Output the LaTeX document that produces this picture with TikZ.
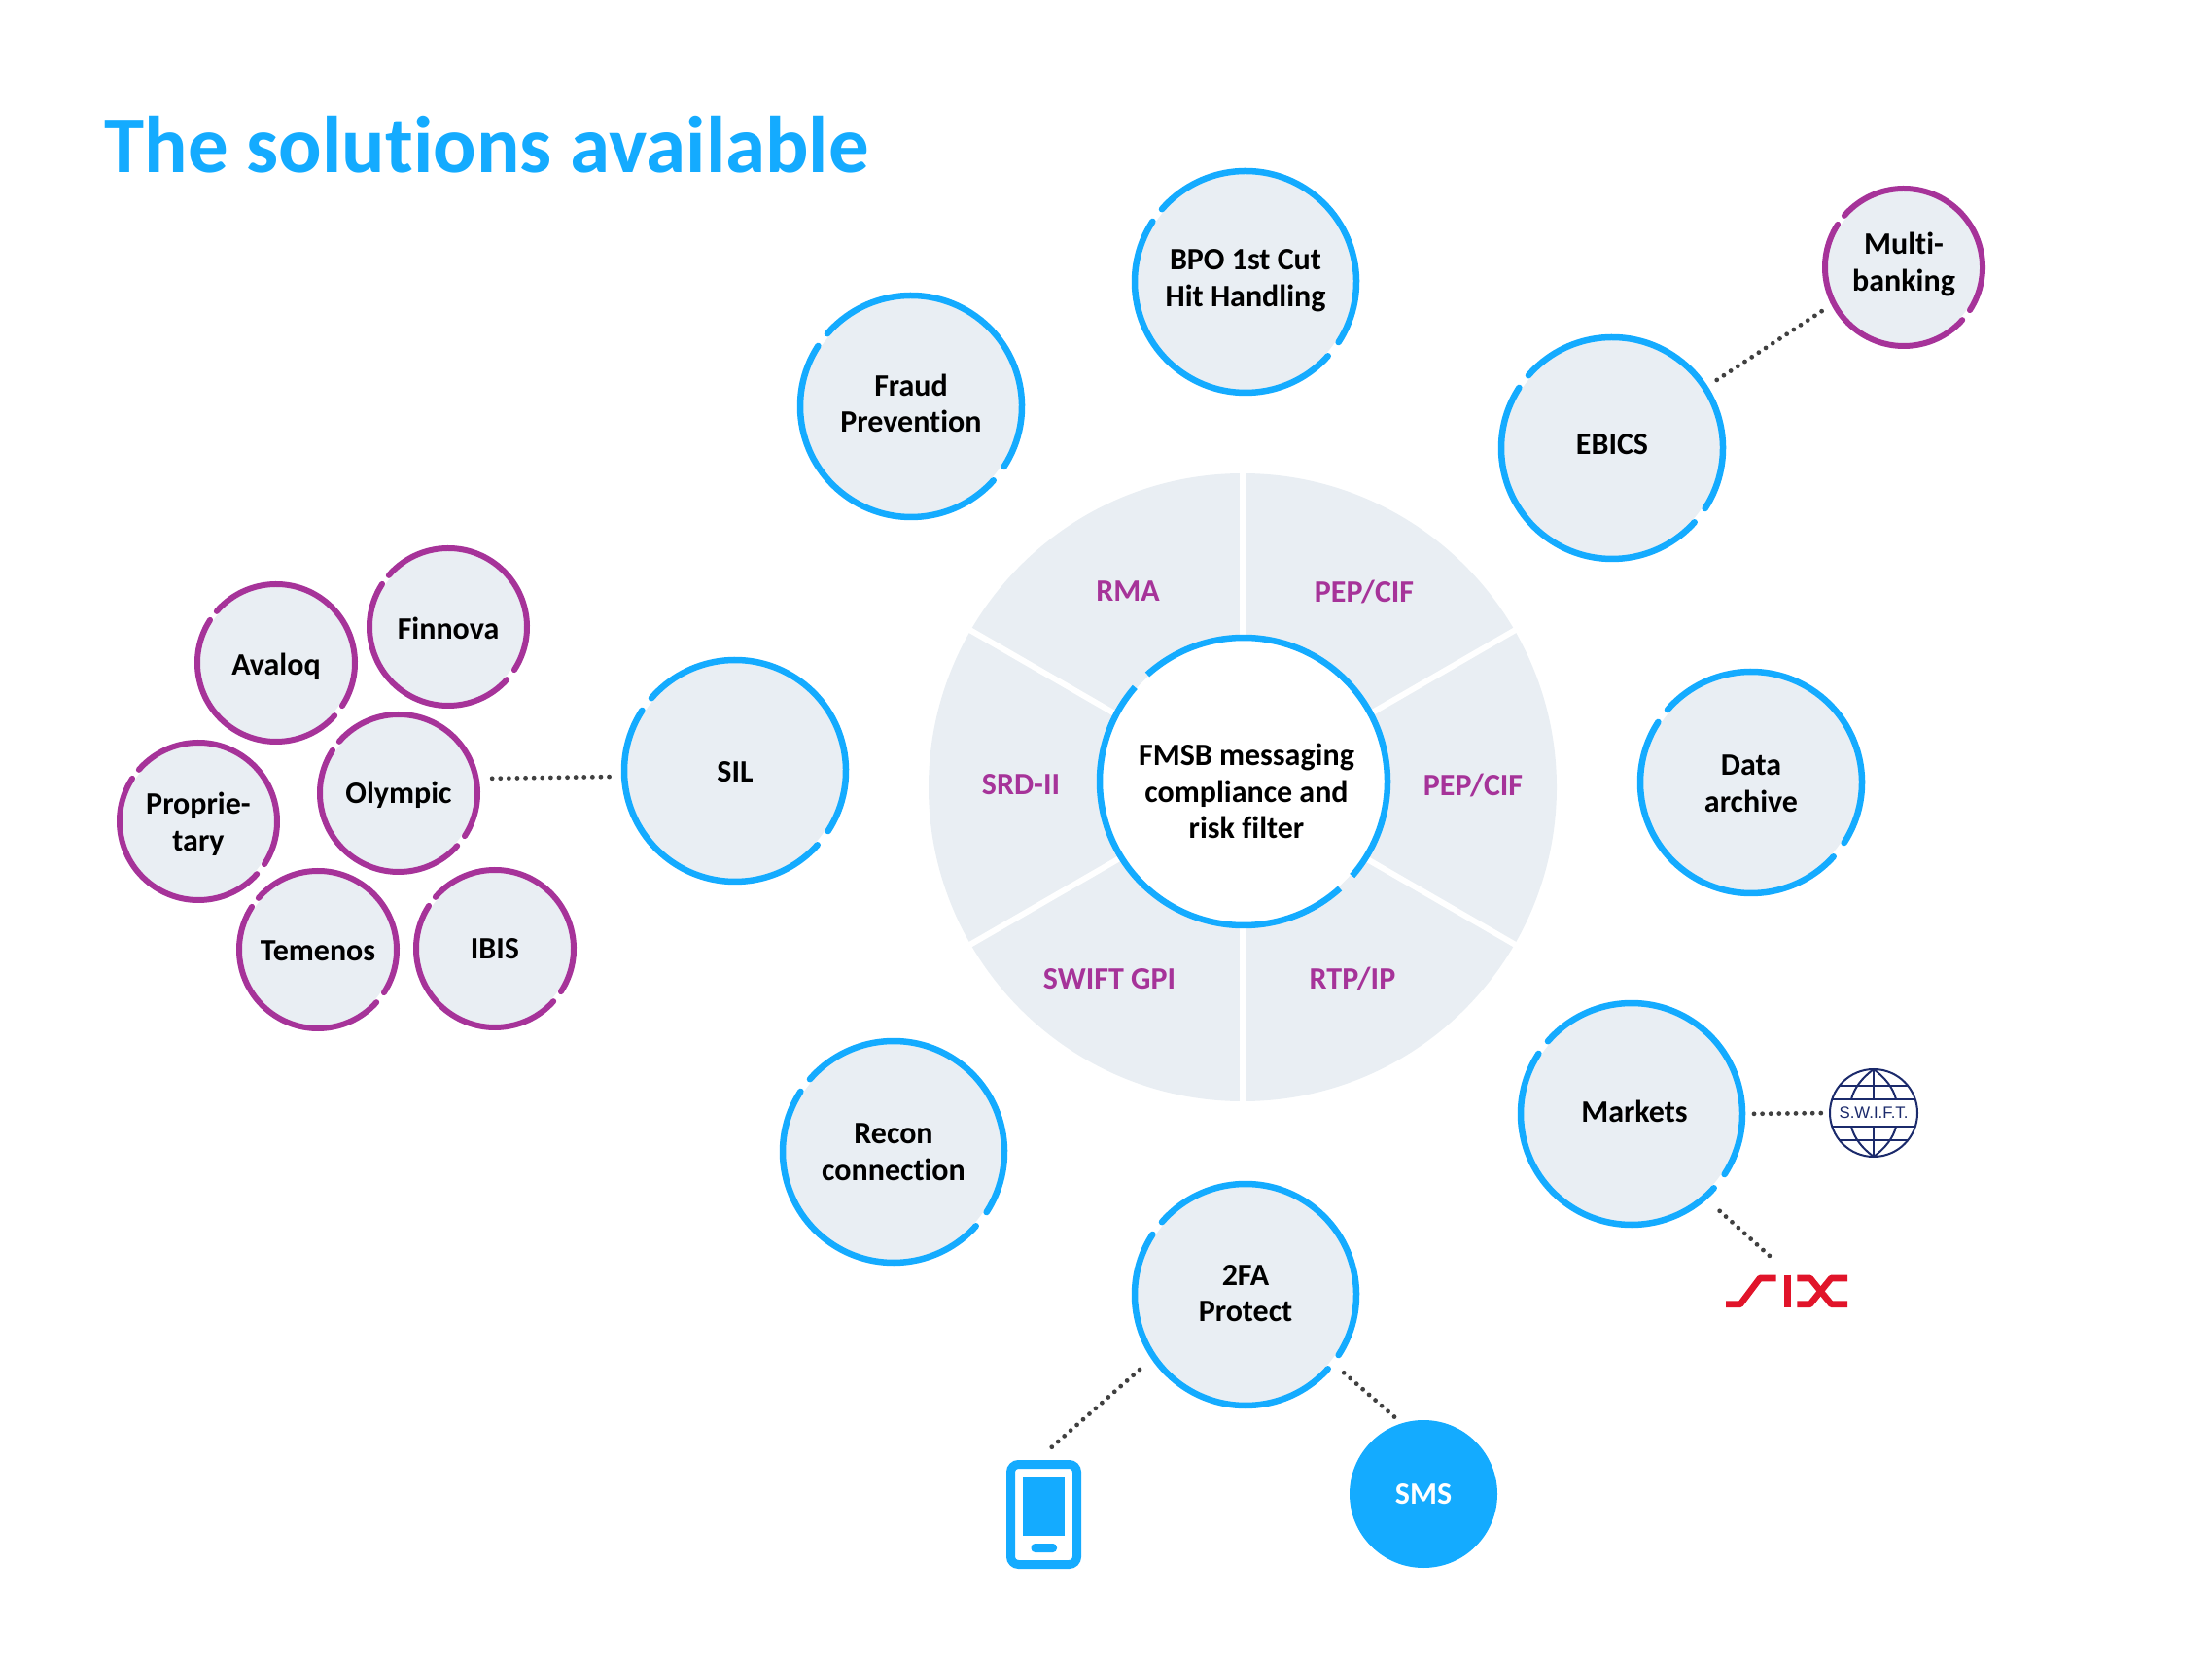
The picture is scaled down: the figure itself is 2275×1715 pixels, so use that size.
\documentclass[tikz,border=0pt]{standalone}
\usepackage{fontspec}
\setmainfont[Ligatures=NoCommon]{Carlito}
\newfontfamily\logofont{Liberation Sans}
\definecolor{solblue}{HTML}{14ABFF}
\definecolor{solpurple}{HTML}{A63399}
\definecolor{solgrey}{HTML}{E9EEF3}
\definecolor{soldots}{HTML}{404040}
\definecolor{solnavy}{HTML}{1B2A6B}
\definecolor{solred}{HTML}{E1142A}
\tikzset{
  bubblefont/.style={font=\fontsize{16}{18.8}\selectfont\bfseries},
  bubble/.style={circle,fill=solgrey,inner sep=0pt,outer sep=0pt,minimum size=111pt},
  smallbubble/.style={bubble,minimum size=78pt},
  bubbletext/.style={inner sep=0pt,align=center,bubblefont},
  ringblue/.style={draw=solblue,line width=3.25pt,line cap=round},
  ringpurple/.style={draw=solpurple,line width=3pt,line cap=round},
  sector/.style={text=solpurple,inner sep=0pt,bubblefont},
  dotlink/.style={draw=soldots,line width=2.4pt,line cap=round,dash pattern=on 0pt off 4.3pt},
  sixline/.style={draw=solred,line width=3.3pt,line join=bevel},
}
\begin{document}
\begin{tikzpicture}[x=0.5pt,y=0.5pt]
\useasboundingbox (0,0) rectangle (2275,1715);
\node[anchor=base west,inner sep=0pt,text=solblue,font=\fontsize{41.5}{50}\selectfont\bfseries] (title) at (107,1537) {The solutions available};
% wheel
\node[circle,fill=solgrey,inner sep=0pt,outer sep=0pt,minimum size=323pt] (wheel) at (1278,905) {};
\foreach \a in {30,90,150,210,270,330}
  \draw[white,line width=3pt,shorten >=-3pt] (wheel.center) -- (wheel.\a);
\node[circle,fill=white,inner sep=0pt,outer sep=0pt,minimum size=146pt] (fmsb) at (1279,911) {};
\node[bubbletext] (fmsblabel) at (1282,901) {FMSB messaging\\compliance and\\risk filter};
\draw[solblue,line width=3.25pt] ([shift={(-41:74pt)}]fmsb.center) arc[start angle=-41,end angle=132,radius=74pt];
\draw[solblue,line width=3.25pt] ([shift={(139:74pt)}]fmsb.center) arc[start angle=139,end angle=312,radius=74pt];
\node[sector] (rma) at (1160,1107) {RMA};
\node[sector] (peptop) at (1403,1106) {PEP/CIF};
\node[sector] (pepright) at (1515,907) {PEP/CIF};
\node[sector] (srd) at (1050,908) {SRD-II};
\node[sector] (gpi) at (1141,708) {SWIFT GPI};
\node[sector] (rtp) at (1391,708) {RTP/IP};
% blue bubbles
\foreach \name/\xx/\yy/\tx/\ty/\txt in {bpo/1281/1425/0/1.5/{BPO 1st Cut\\Hit Handling},fraud/937/1297/0/3/{Fraud\\Prevention},ebics/1658/1254/0/4/EBICS,data/1801/910/0/-1.5/{Data\\archive},sil/756/922/0/-1.5/SIL,recon/919/530/0/0/{Recon\\connection},markets/1678/569/3/3/Markets,twofa/1281/383/0/1.5/{2FA\\Protect}}{
  \node[bubble] (\name) at (\xx,\yy) {};
  \node[bubbletext] (\name label) at ([shift={(\tx,\ty)}]\name.center) {\txt};
  \draw[ringblue] ([shift={(-33:57pt)}]\name.center) arc[start angle=-33,end angle=139,radius=57pt];
  \draw[ringblue] ([shift={(147:57pt)}]\name.center) arc[start angle=147,end angle=318,radius=57pt];
}
% purple bubbles
\foreach \name/\xx/\yy/\tx/\ty/\txt in {multi/1958/1440/0/3/{Multi-\\banking},finnova/461/1070/0/-1.5/Finnova,avaloq/284/1033/0/-4/Avaloq,olympic/410/899/0/-1.5/Olympic,proprietary/204/870/0/-3/{Proprie-\\tary},temenos/327/738/0/-1.5/Temenos,ibis/509/739/0/0/IBIS}{
  \node[smallbubble] (\name) at (\xx,\yy) {};
  \node[bubbletext] (\name label) at ([shift={(\tx,\ty)}]\name.center) {\txt};
  \draw[ringpurple] ([shift={(-33:40.5pt)}]\name.center) arc[start angle=-33,end angle=139,radius=40.5pt];
  \draw[ringpurple] ([shift={(147:40.5pt)}]\name.center) arc[start angle=147,end angle=318,radius=40.5pt];
}
\node[circle,fill=solblue,text=white,inner sep=0pt,outer sep=0pt,minimum size=76pt,bubblefont] (sms) at (1464,178) {SMS};
% phone
\node[draw=solblue,line width=4.5pt,rounded corners=4pt,inner sep=0pt,outer sep=0pt,minimum width=34pt,minimum height=51.5pt] (phone) at (1073.5,157) {};
\fill[solblue] (1052,195) rectangle (1095,135);
\fill[solblue,rounded corners=2pt] (1060.5,127) rectangle (1087,118);
% swift globe
\node[circle,draw=solnavy,line width=1pt,inner sep=0pt,outer sep=0pt,minimum size=45pt,text=solnavy,font=\fontsize{8.4}{9}\selectfont\logofont] (swift) at (1927,570) {S.W.I.F.T.};
\begin{scope}[shift={(swift.center)},draw=solnavy,line width=1pt]
\draw (-42.8,14) -- (42.8,14);
\draw (-42.8,-14) -- (42.8,-14);
\draw (-35,28) -- (35,28);
\draw (-35,-28) -- (35,-28);
\draw (0,45) -- (0,14);
\draw (0,-14) -- (0,-45);
\draw (0,45) .. controls (-12,36) and (-20,26) .. (-23,14);
\draw (0,45) .. controls (12,36) and (20,26) .. (23,14);
\draw (0,-45) .. controls (-12,-36) and (-20,-26) .. (-23,-14);
\draw (0,-45) .. controls (12,-36) and (20,-26) .. (23,-14);
\end{scope}
% six logo
\coordinate (sixlink) at (1820,423);
\draw[sixline] (1775,373.3) -- (1790,373.3) -- (1810,400) -- (1826.7,400);
\draw[sixline] (1838.3,403.3) -- (1838.3,370);
\draw[sixline] (1848.3,373.3) -- (1861.7,373.3) -- (1883.3,400) -- (1900,400);
\draw[sixline] (1848.3,400) -- (1861.7,400) -- (1883.3,373.3) -- (1900,373.3);
% links
\draw[dotlink,shorten <=8.75pt,shorten >=8.6pt] (ebics.33) -- (multi.207.8);
\draw[dotlink,shorten <=9.8pt,shorten >=8.5pt] (olympic.11.8) -- (sil.183.6);
\draw[dotlink,shorten <=7.5pt,shorten >=4.5pt] (markets.0) -- (swift.180);
\draw[dotlink,shorten <=12pt] (markets.-49.8) -- (sixlink);
\draw[dotlink,shorten <=11.3pt,shorten >=12.5pt] (twofa.214.7) -- (phone.103);
\draw[dotlink,shorten <=9.1pt,shorten >=3.7pt] (twofa.-38.4) -- (sms.107.1);
\end{tikzpicture}
\end{document}
